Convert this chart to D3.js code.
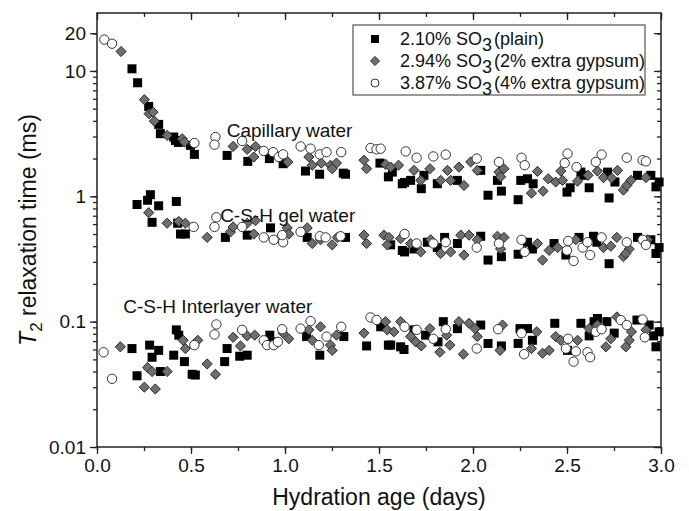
<!DOCTYPE html>
<html>
<head>
<meta charset="utf-8">
<script src="https://cdn.jsdelivr.net/npm/d3@7"></script>
<style>
  body { margin: 0; background: #fff; }
  text { font-family: "Liberation Sans", Arial, sans-serif; fill: #111; }
</style>
</head>
<body>
<div id="chart"></div>
<script>
// T2 relaxation data, [hydration age (days), T2 (ms)]
const plain = [
  // capillary
  [0.186,10.4],[0.216,8.05],[0.275,5.21],[0.328,3.75],[0.337,3.16],[0.408,2.97],[0.417,2.79],[0.433,2.69],
  [0.497,2.55],[0.518,2.16],[0.692,2.12],[0.802,1.90],[0.917,2.0],[0.990,1.82],[1.109,1.59],[1.184,1.50],
  [1.31,1.53],[1.322,1.50],[1.505,1.84],[1.55,1.43],[1.571,1.56],[1.624,1.26],[1.636,1.29],[1.668,1.34],
  [1.725,1.15],[1.739,1.47],[1.81,1.26],[1.917,1.34],[2.041,1.61],[2.08,1.02],[2.151,1.10],[2.13,1.34],
  [2.24,0.94],[2.254,1.34],[2.29,1.38],[2.32,1.26],[2.50,1.08],[2.517,1.17],[2.574,1.56],[2.59,1.47],
  [2.618,1.17],[2.716,1.56],[2.724,0.97],[2.755,1.30],[2.875,1.47],[2.946,1.47],[2.973,1.19],[2.99,1.30],
  // gel
  [0.213,0.86],[0.269,0.93],[0.284,1.03],[0.328,0.84],[0.293,0.62],[0.422,0.91],[0.429,0.61],[0.444,0.50],
  [0.47,0.50],[0.683,0.47],[0.799,0.49],[0.923,0.56],[1.118,0.47],[1.322,0.47],[1.562,0.41],[1.624,0.37],
  [1.636,0.36],[1.686,0.38],[1.757,0.43],[1.81,0.39],[1.849,0.47],[1.917,0.42],[2.041,0.48],[2.08,0.31],
  [2.151,0.33],[2.24,0.345],[2.29,0.43],[2.316,0.38],[2.431,0.42],[2.494,0.34],[2.564,0.47],[2.641,0.48],
  [2.659,0.43],[2.724,0.29],[2.875,0.47],[2.946,0.45],[2.973,0.35],[2.99,0.39],
  // interlayer
  [0.186,0.061],[0.28,0.065],[0.293,0.052],[0.328,0.059],[0.213,0.037],[0.337,0.040],[0.422,0.086],[0.435,0.078],
  [0.408,0.054],[0.465,0.048],[0.506,0.038],[0.523,0.0375],[0.692,0.061],[0.679,0.048],[0.759,0.053],[0.799,0.054],
  [0.919,0.078],[0.937,0.069],[1.115,0.076],[1.185,0.054],[1.313,0.076],[1.434,0.064],[1.509,0.091],[1.55,0.065],
  [1.562,0.065],[1.615,0.063],[1.633,0.060],[1.686,0.086],[1.748,0.078],[1.814,0.069],[1.842,0.10],[1.917,0.088],
  [2.041,0.094],[2.08,0.067],[2.151,0.064],[2.25,0.088],[2.29,0.088],[2.24,0.067],[2.316,0.071],[2.435,0.097],
  [2.503,0.059],[2.574,0.097],[2.618,0.077],[2.644,0.10],[2.662,0.106],[2.712,0.10],[2.751,0.081],[2.872,0.103],
  [2.937,0.094],[2.961,0.077],[2.973,0.063],[2.99,0.083]
];

const gyp2 = [
  // capillary
  [0.128,14.3],[0.252,5.9],[0.277,4.56],[0.298,4.70],[0.305,3.98],[0.373,3.06],[0.453,2.88],[0.465,2.71],
  [0.724,2.50],[0.799,2.37],[0.834,2.06],[0.843,2.50],[1.015,1.88],[1.127,2.06],[1.145,1.77],[1.193,1.84],
  [1.242,1.77],[1.274,1.84],[1.251,1.66],[1.42,1.94],[1.434,1.66],[1.535,1.80],[1.562,1.71],[1.604,1.77],
  [1.686,1.61],[1.722,1.34],[1.771,1.66],[1.828,1.34],[1.864,1.61],[1.881,1.34],[1.925,1.71],[1.952,1.22],
  [1.988,1.88],[2.023,1.61],[2.138,1.56],[2.165,1.66],[2.147,1.43],[2.343,1.58],[2.311,1.06],[2.373,1.10],
  [2.40,1.38],[2.44,1.30],[2.467,1.59],[2.476,1.34],[2.556,1.32],[2.612,1.47],[2.662,1.59],[2.694,1.41],
  [2.769,1.61],[2.737,1.40],[2.80,1.12],[2.818,1.22],[2.84,1.34],[2.92,1.41],
  // gel
  [0.275,0.74],[0.373,0.61],[0.435,0.63],[0.47,0.61],[0.586,0.47],[0.71,0.52],[0.724,0.57],[0.799,0.61],
  [0.843,0.64],[0.834,0.50],[1.012,0.56],[1.02,0.50],[1.118,0.56],[1.145,0.42],[1.189,0.45],[1.251,0.41],
  [1.278,0.47],[1.42,0.49],[1.434,0.42],[1.526,0.49],[1.544,0.41],[1.553,0.47],[1.615,0.46],[1.668,0.42],
  [1.722,0.36],[1.775,0.45],[1.828,0.35],[1.881,0.36],[1.935,0.49],[1.979,0.49],[1.952,0.34],[2.023,0.45],
  [2.13,0.48],[2.165,0.47],[2.147,0.38],[2.343,0.42],[2.37,0.31],[2.405,0.37],[2.45,0.39],[2.547,0.45],
  [2.605,0.42],[2.694,0.39],[2.733,0.40],[2.765,0.47],[2.831,0.38],[2.80,0.33],[2.813,0.35],[2.929,0.45],
  // interlayer
  [0.124,0.063],[0.269,0.043],[0.293,0.040],[0.373,0.040],[0.252,0.030],[0.31,0.029],[0.458,0.071],[0.536,0.071],
  [0.47,0.061],[0.586,0.046],[0.63,0.038],[0.724,0.075],[0.763,0.064],[0.799,0.077],[0.839,0.078],[0.99,0.081],
  [1.02,0.073],[1.127,0.086],[1.145,0.071],[1.189,0.091],[1.242,0.065],[1.251,0.059],[1.274,0.078],[1.42,0.081],
  [1.535,0.10],[1.544,0.086],[1.579,0.083],[1.615,0.10],[1.668,0.076],[1.695,0.069],[1.725,0.064],[1.771,0.088],
  [1.824,0.057],[1.86,0.078],[1.877,0.065],[1.925,0.10],[1.949,0.055],[1.979,0.097],[2.011,0.088],[2.023,0.076],
  [2.157,0.094],[2.144,0.059],[2.339,0.083],[2.311,0.061],[2.37,0.056],[2.405,0.059],[2.44,0.076],[2.467,0.071],
  [2.556,0.071],[2.618,0.088],[2.662,0.094],[2.707,0.063],[2.733,0.073],[2.765,0.109],[2.831,0.071],[2.813,0.063],
  [2.843,0.083],[2.92,0.086]
];

const gyp4 = [
  // capillary
  [0.039,17.8],[0.08,16.5],[0.518,2.66],[0.63,2.97],[0.625,2.58],[0.772,2.76],[0.887,2.30],[0.937,2.25],
  [0.967,2.06],[0.99,2.16],[1.083,2.50],[1.136,2.40],[1.185,2.16],[1.221,2.25],[1.299,2.25],[1.455,2.43],
  [1.487,2.37],[1.509,2.40],[1.642,2.28],[1.70,2.03],[1.789,2.08],[1.855,2.15],[2.02,2.0],[2.138,1.88],
  [2.258,2.03],[2.275,1.77],[2.503,2.19],[2.488,1.84],[2.551,1.71],[2.653,1.88],[2.684,2.15],[2.818,2.03],
  [2.902,1.94],[2.92,1.90],
  // gel
  [0.514,0.57],[0.635,0.68],[0.625,0.57],[0.772,0.57],[0.887,0.47],[0.94,0.45],[0.99,0.43],[0.985,0.49],
  [1.083,0.52],[1.185,0.48],[1.216,0.47],[1.296,0.48],[1.636,0.50],[1.70,0.42],[1.789,0.42],[1.855,0.43],
  [2.02,0.39],[2.138,0.42],[2.258,0.45],[2.275,0.36],[2.50,0.37],[2.535,0.305],[2.506,0.44],[2.583,0.39],
  [2.623,0.34],[2.609,0.43],[2.684,0.47],[2.818,0.43],[2.902,0.45],[2.92,0.41],
  // interlayer
  [0.035,0.057],[0.08,0.035],[0.518,0.065],[0.635,0.095],[0.625,0.079],[0.772,0.086],[0.887,0.071],[0.905,0.065],
  [0.94,0.065],[0.962,0.069],[0.985,0.087],[1.083,0.088],[1.136,0.101],[1.18,0.065],[1.221,0.076],[1.299,0.091],
  [1.455,0.108],[1.487,0.103],[1.636,0.091],[1.70,0.086],[1.789,0.073],[1.855,0.087],[2.02,0.061],[2.133,0.087],
  [2.258,0.081],[2.272,0.055],[2.506,0.073],[2.494,0.061],[2.535,0.048],[2.547,0.058],[2.609,0.057],[2.623,0.052],
  [2.653,0.083],[2.684,0.087],[2.786,0.103],[2.818,0.094],[2.902,0.104],[2.914,0.075]
];

const xTicks = [0, 0.5, 1.0, 1.5, 2.0, 2.5, 3.0];
const yTicks = [0.01, 0.1, 1, 10, 20];
const legendLabels = [
  ["2.10% SO", "3", "(plain)"],
  ["2.94% SO", "3", "(2% extra gypsum)"],
  ["3.87% SO", "3", "(4% extra gypsum)"]
];

const W = 689, H = 511;
const margin = { top: 13, right: 28, bottom: 64, left: 97 };
const width = W - margin.left - margin.right;
const height = H - margin.top - margin.bottom;

const svg = d3.select("#chart").append("svg")
  .attr("width", W).attr("height", H);

const g = svg.append("g")
  .attr("transform", "translate(" + margin.left + "," + margin.top + ")");

const x = d3.scaleLinear().domain([0, 3]).range([0, width]);
const y = d3.scaleLog().domain([0.01, 29]).range([height, 0]);

// minor tick values
const xMinor = d3.range(0, 3.001, 0.25);
const yMinor = [];
[0.01, 0.1, 1, 10].forEach(function(b) {
  for (let k = 1; k <= 9; k++) if (b * k <= 29) yMinor.push(b * k);
});
yMinor.push(20);

function styleAxis(sel) {
  sel.select(".domain").remove();
  sel.selectAll("line").attr("stroke", "#222").attr("stroke-width", 1.3);
  sel.selectAll("text").style("font-size", "19px").attr("fill", "#111");
}

// bottom
g.append("g").attr("transform", "translate(0," + height + ")")
  .call(d3.axisBottom(x).tickValues(xMinor).tickSize(4).tickFormat(""))
  .call(styleAxis);
g.append("g").attr("transform", "translate(0," + height + ")")
  .call(d3.axisBottom(x).tickValues(xTicks).tickSize(7).tickPadding(5).tickFormat(d3.format(".1f")))
  .call(styleAxis);
// top
g.append("g")
  .call(d3.axisTop(x).tickValues(xMinor).tickSize(-4).tickFormat(""))
  .call(styleAxis);
g.append("g")
  .call(d3.axisTop(x).tickValues(xTicks).tickSize(-7).tickFormat(""))
  .call(styleAxis);
// left
g.append("g")
  .call(d3.axisLeft(y).tickValues(yMinor).tickSize(4).tickFormat(""))
  .call(styleAxis);
g.append("g")
  .call(d3.axisLeft(y).tickValues(yTicks).tickSize(7).tickPadding(4).tickFormat(d3.format("~g")))
  .call(styleAxis);
// right
g.append("g").attr("transform", "translate(" + width + ",0)")
  .call(d3.axisRight(y).tickValues(yMinor).tickSize(-4).tickFormat(""))
  .call(styleAxis);
g.append("g").attr("transform", "translate(" + width + ",0)")
  .call(d3.axisRight(y).tickValues(yTicks).tickSize(-7).tickFormat(""))
  .call(styleAxis);

// frame
g.append("rect")
  .attr("width", width).attr("height", height)
  .attr("fill", "none").attr("stroke", "#222").attr("stroke-width", 1.5);

// markers
const sqSize = 9;
const dia = d3.symbol().type(d3.symbolDiamond2).size(66);

function drawSquares(sel, data) {
  sel.selectAll("rect.sq").data(data).enter().append("rect")
    .attr("class", "sq")
    .attr("x", function(d) { return x(d[0]) - sqSize / 2; })
    .attr("y", function(d) { return y(d[1]) - sqSize / 2; })
    .attr("width", sqSize).attr("height", sqSize)
    .attr("fill", "#000");
}
function drawDiamonds(sel, data) {
  sel.selectAll("path.dm").data(data).enter().append("path")
    .attr("class", "dm")
    .attr("d", dia)
    .attr("transform", function(d) { return "translate(" + x(d[0]) + "," + y(d[1]) + ")"; })
    .attr("fill", "#6e6e6e").attr("stroke", "#2a2a2a").attr("stroke-width", 1);
}
function drawCircles(sel, data) {
  sel.selectAll("circle.ci").data(data).enter().append("circle")
    .attr("class", "ci")
    .attr("cx", function(d) { return x(d[0]); })
    .attr("cy", function(d) { return y(d[1]); })
    .attr("r", 4.7)
    .attr("fill", "#fff").attr("stroke", "#333").attr("stroke-width", 1);
}

const marks = g.append("g");
drawSquares(marks.append("g"), plain);
drawDiamonds(marks.append("g"), gyp2);
drawCircles(marks.append("g"), gyp4);

// region annotations
const notes = [
  ["Capillary water", 0.69, 2.95],
  ["C-S-H gel water", 0.655, 0.62],
  ["C-S-H Interlayer water", 0.14, 0.117]
];
g.selectAll("text.note").data(notes).enter().append("text")
  .attr("class", "note")
  .attr("x", function(d) { return x(d[1]); })
  .attr("y", function(d) { return y(d[2]); })
  .style("font-size", "19px")
  .text(function(d) { return d[0]; });

// legend
const legend = svg.append("g").attr("transform", "translate(353,25)");
legend.append("rect")
  .attr("width", 292).attr("height", 70)
  .attr("fill", "#fff").attr("stroke", "#555").attr("stroke-width", 1.2);

const rowY = [14, 36, 58];
legend.append("rect").attr("x", 22 - 4).attr("y", rowY[0] - 4).attr("width", 8).attr("height", 8).attr("fill", "#000");
legend.append("path").attr("d", d3.symbol().type(d3.symbolDiamond2).size(52))
  .attr("transform", "translate(22," + rowY[1] + ")")
  .attr("fill", "#6e6e6e").attr("stroke", "#2a2a2a");
legend.append("circle").attr("cx", 22).attr("cy", rowY[2]).attr("r", 4)
  .attr("fill", "#fff").attr("stroke", "#333");

legendLabels.forEach(function(l, i) {
  const t = legend.append("text")
    .attr("x", 47).attr("y", rowY[i] + 6)
    .style("font-size", "18px");
  t.append("tspan").text(l[0]);
  t.append("tspan").attr("dy", 6).text(l[1]);
  t.append("tspan").attr("dy", -6).attr("dx", 2).text(l[2]);
});

// axis titles
svg.append("text")
  .attr("x", margin.left + width / 2).attr("y", 505)
  .attr("text-anchor", "middle")
  .style("font-size", "23px")
  .text("Hydration age (days)");

const yt = svg.append("text")
  .attr("transform", "translate(36," + (margin.top + height / 2) + ") rotate(-90)")
  .attr("text-anchor", "middle")
  .style("font-size", "23px");
yt.append("tspan").style("font-style", "italic").text("T");
yt.append("tspan").attr("dy", 6).style("font-size", "17px").text("2");
yt.append("tspan").attr("dy", -6).text(" relaxation time (ms)");
</script>
</body>
</html>
